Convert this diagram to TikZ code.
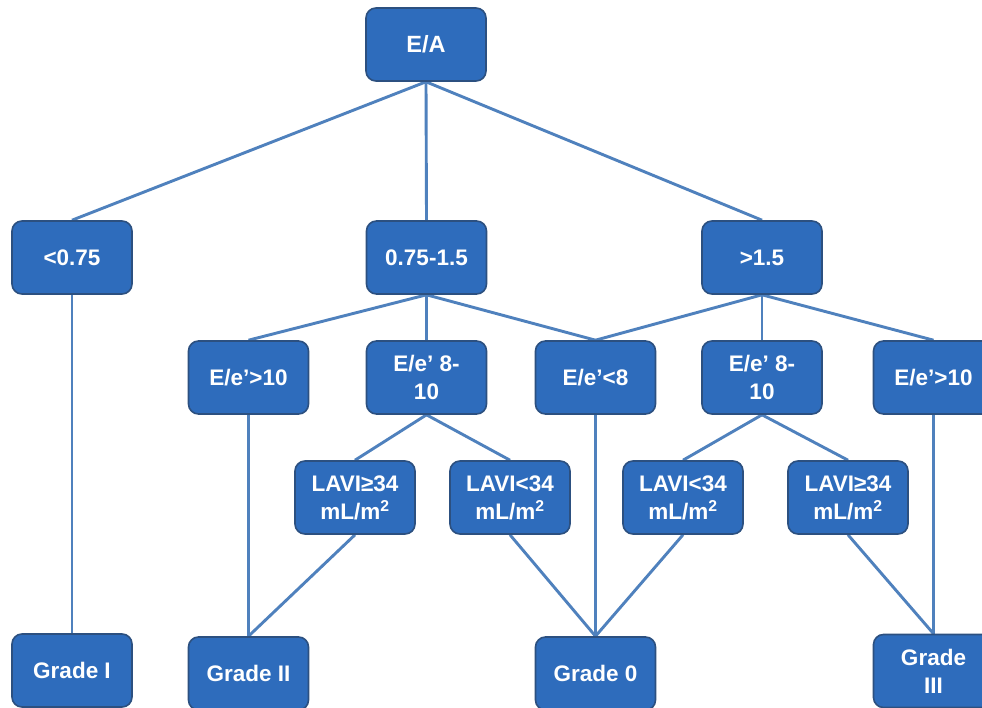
\documentclass[tikz,border=0pt]{standalone}
\usepackage{fontspec}
\setmainfont{Liberation Sans}
\usetikzlibrary{backgrounds}
\definecolor{boxfill}{RGB}{46,108,188}
\definecolor{boxdraw}{RGB}{44,80,128}
\definecolor{linec}{RGB}{79,129,189}
\begin{document}
\begin{tikzpicture}[x=1pt,y=-1pt,
  bx/.style={draw=boxdraw,line width=1.6pt,fill=boxfill,rounded corners=10pt,minimum width=120pt,minimum height=73pt,inner sep=2pt,text=white,font=\bfseries\fontsize{22.5}{28}\selectfont,align=center},
  cn/.style={draw=linec,line width=2.9pt}]
\useasboundingbox (0,0) rectangle (982,708);
\clip (0,0) rectangle (982,708);
\node[bx,font=\bfseries\fontsize{23.5}{28}\selectfont] (EA) at (426,44.5) {E/A};
\node[bx] (lt) at (72,257.5) {<0.75};
\node[bx] (mid) at (426.5,257.5) {0.75-1.5};
\node[bx] (gt) at (762,257.5) {>1.5};
\node[bx] (r1) at (248.5,377.5) {E/e’>10};
\node[bx] (r2) at (426.5,377.5) {E/e’ 8-\\10};
\node[bx] (r3) at (595.5,377.5) {E/e’<8};
\node[bx] (r4) at (762,377.5) {E/e’ 8-\\10};
\node[bx] (r5) at (933.5,377.5) {E/e’>10};
\node[bx] (l1) at (355,497.5) {LAVI≥34\\mL/m\textsuperscript{2}};
\node[bx] (l2) at (510,497.5) {LAVI<34\\mL/m\textsuperscript{2}};
\node[bx] (l3) at (683,497.5) {LAVI<34\\mL/m\textsuperscript{2}};
\node[bx] (l4) at (848,497.5) {LAVI≥34\\mL/m\textsuperscript{2}};
\node[bx] (g1) at (72,670.5) {Grade I};
\node[bx] (g2) at (248.5,673.5) {Grade II};
\node[bx] (g0) at (595.5,673.5) {Grade 0};
\node[bx] (g3) at (933.5,671) {Grade\\III};
\begin{scope}[on background layer]
\fill[white] (0,0) rectangle (982,708);
\draw[cn] (EA.south) -- (lt.north);
\draw[cn] (EA.south) -- (mid.north);
\draw[cn] (EA.south) -- (gt.north);
\draw[cn] (lt.south) -- (g1.north);
\draw[cn] (mid.south) -- (r1.north);
\draw[cn] (mid.south) -- (r2.north);
\draw[cn] (mid.south) -- (r3.north);
\draw[cn] (gt.south) -- (r3.north);
\draw[cn] (gt.south) -- (r4.north);
\draw[cn] (gt.south) -- (r5.north);
\draw[cn] (r1.south) -- (g2.north);
\draw[cn] (r2.south) -- (l1.north);
\draw[cn] (r2.south) -- (l2.north);
\draw[cn] (r3.south) -- (g0.north);
\draw[cn] (r4.south) -- (l3.north);
\draw[cn] (r4.south) -- (l4.north);
\draw[cn] (r5.south) -- (g3.north);
\draw[cn] (l1.south) -- (g2.north);
\draw[cn] (l2.south) -- (g0.north);
\draw[cn] (l3.south) -- (g0.north);
\draw[cn] (l4.south) -- (g3.north);
\end{scope}
\end{tikzpicture}
\end{document}
